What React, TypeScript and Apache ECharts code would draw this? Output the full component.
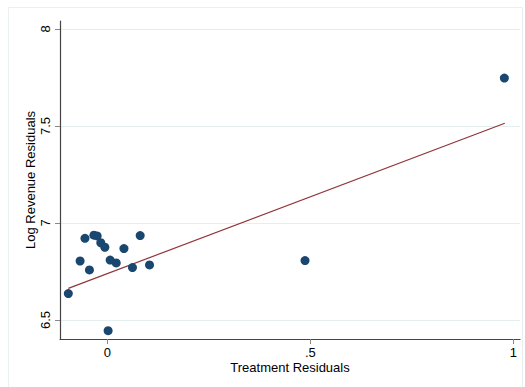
import React, { useEffect, useRef } from "react";
import * as echarts from "echarts";

const treatmentResiduals = [
  -0.096, -0.067, -0.055, -0.044, -0.033, -0.025, -0.016, -0.006, 0.002, 0.007,
  0.022, 0.041, 0.062, 0.081, 0.104, 0.487, 0.978,
];
const logRevenueResiduals = [
  6.636, 6.804, 6.921, 6.758, 6.937, 6.933, 6.898, 6.875, 6.445, 6.809,
  6.794, 6.868, 6.77, 6.935, 6.784, 6.806, 7.747,
];
const fitX = [-0.096, 0.979];
const fitY = [6.663, 7.514];
const xTicks = [0, 0.5, 1];
const xTickLabels = ["0", ".5", "1"];
const yTicks = [6.5, 7, 7.5, 8];
const yTickLabels = ["6.5", "7", "7.5", "8"];

const FONT = "'Liberation Sans', Arial, Helvetica, sans-serif";

export default function App() {
  const ref = useRef<HTMLDivElement>(null);
  useEffect(() => {
    document.body.style.margin = "0";
    if (!ref.current) return;
    const chart = echarts.init(ref.current, null, { renderer: "svg" });
    const points = treatmentResiduals.map((x, i) => [x, logRevenueResiduals[i]]);
    const fit = fitX.map((x, i) => [x, fitY[i]]);
    chart.setOption({
      animation: false,
      backgroundColor: "#ffffff",
      textStyle: { fontFamily: FONT },
      graphic: [
        {
          type: "rect",
          shape: { x: 8.5, y: 7.5, width: 514, height: 385 },
          style: { fill: "none", stroke: "#eaeff1", lineWidth: 1 },
          silent: true,
          z: -1,
        },
      ],
      grid: { left: 60, top: 21, right: 5, bottom: 48, containLabel: false },
      xAxis: {
        type: "value",
        min: -0.1165,
        max: 1.0165,
        name: "Treatment Residuals",
        nameLocation: "middle",
        nameGap: 22,
        nameMoveOverlap: false,
        nameTextStyle: { color: "#000", fontSize: 13, fontFamily: FONT },
        axisLine: { show: true, onZero: false, lineStyle: { color: "#444", width: 1.2 } },
        axisTick: {
          show: true,
          length: 5,
          customValues: xTicks,
          lineStyle: { color: "#888", width: 1 },
        },
        axisLabel: {
          customValues: xTicks,
          margin: 7,
          color: "#000",
          fontSize: 13,
          fontFamily: FONT,
          formatter: (v: number) => {
            const idx = xTicks.findIndex((t) => Math.abs(t - v) < 1e-9);
            return idx >= 0 ? xTickLabels[idx] : "";
          },
        },
        splitLine: { show: false },
      },
      yAxis: {
        type: "value",
        min: 6.402,
        max: 8.041,
        name: "Log Revenue Residuals",
        nameLocation: "middle",
        nameGap: 23,
        nameMoveOverlap: false,
        nameRotate: 90,
        nameTextStyle: { color: "#000", fontSize: 13, fontFamily: FONT },
        axisLine: { show: true, onZero: false, lineStyle: { color: "#444", width: 1.2 } },
        axisTick: {
          show: true,
          length: 5,
          customValues: yTicks,
          lineStyle: { color: "#888", width: 1 },
        },
        axisLabel: {
          customValues: yTicks,
          rotate: 90,
          margin: 8,
          color: "#000",
          fontSize: 13,
          fontFamily: FONT,
          formatter: (v: number) => {
            const idx = yTicks.findIndex((t) => Math.abs(t - v) < 1e-9);
            return idx >= 0 ? yTickLabels[idx] : "";
          },
        },
        splitLine: { show: true, lineStyle: { color: "#e6eff0", width: 1.2 } },
      },
      series: [
        {
          type: "scatter",
          data: points,
          symbol: "circle",
          symbolSize: 9,
          itemStyle: { color: "#1a476f", opacity: 1 },
          z: 3,
        },
        {
          type: "line",
          data: fit,
          showSymbol: false,
          symbol: "none",
          lineStyle: { color: "#90353b", width: 1.2 },
          z: 2,
        },
      ],
    });
    return () => chart.dispose();
  }, []);
  return <div ref={ref} style={{ width: 525, height: 387 }} />;
}
